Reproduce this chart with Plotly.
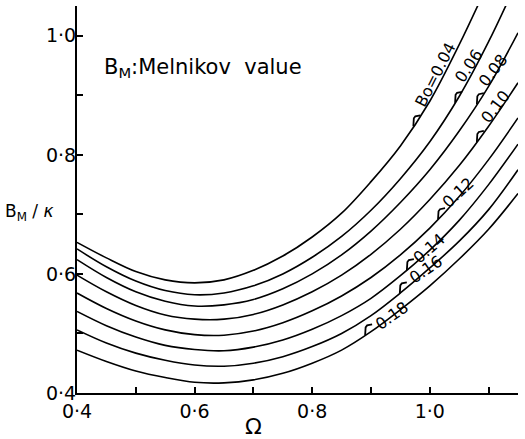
import numpy as np
import plotly.graph_objects as go

# ---- data ----
omega = [0.40, 0.45, 0.50, 0.55, 0.60, 0.65, 0.70, 0.75, 0.80, 0.85,
         0.90, 0.95, 1.00, 1.05, 1.10, 1.15]

B0_values = [0.04, 0.06, 0.08, 0.10, 0.12, 0.14, 0.16, 0.18]

bm_004 = [0.653, 0.627, 0.604, 0.590, 0.585, 0.590, 0.606, 0.630, 0.662, 0.702,
          0.755, 0.815, 0.890, 0.985, 1.090, 1.200]
bm_006 = [0.642, 0.612, 0.588, 0.572, 0.565, 0.568, 0.580, 0.600, 0.628, 0.663,
          0.707, 0.760, 0.822, 0.898, 0.990, 1.095]
bm_008 = [0.624, 0.594, 0.570, 0.554, 0.546, 0.548, 0.557, 0.575, 0.600, 0.632,
          0.672, 0.720, 0.775, 0.840, 0.915, 1.005]
bm_010 = [0.598, 0.570, 0.547, 0.531, 0.524, 0.524, 0.532, 0.548, 0.570, 0.598,
          0.633, 0.675, 0.725, 0.782, 0.848, 0.921]
bm_012 = [0.568, 0.542, 0.521, 0.506, 0.498, 0.497, 0.504, 0.518, 0.538, 0.563,
          0.594, 0.632, 0.677, 0.730, 0.792, 0.862]
bm_014 = [0.537, 0.513, 0.494, 0.480, 0.473, 0.471, 0.477, 0.489, 0.507, 0.530,
          0.559, 0.597, 0.640, 0.690, 0.750, 0.818]
bm_016 = [0.506, 0.484, 0.467, 0.455, 0.447, 0.445, 0.450, 0.461, 0.478, 0.500,
          0.530, 0.568, 0.610, 0.655, 0.708, 0.775]
bm_018 = [0.472, 0.453, 0.437, 0.426, 0.418, 0.417, 0.422, 0.433, 0.450, 0.472,
          0.503, 0.540, 0.580, 0.625, 0.675, 0.735]

curves = [bm_004, bm_006, bm_008, bm_010, bm_012, bm_014, bm_016, bm_018]

label_texts = ["Bo=0.04", "0.06", "0.08", "0.10", "0.12", "0.14", "0.16", "0.18"]
label_omega = [0.972, 1.043, 1.080, 1.080, 1.014, 0.961, 0.949, 0.890]
label_angle = [63, 56, 52, 53, 43, 41, 34, 35]
label_shift_x = [22, 14, 16, 19, 20, 22, 26, 27]
label_shift_y = [52, 37, 34, 35, 27, 22, 24, 20]

x_tickvals = [0.4, 0.6, 0.8, 1.0]
x_ticktext = ["0·4", "0·6", "0·8", "1·0"]
x_minorvals = [0.5, 0.7, 0.9, 1.1]
y_tickvals = [0.4, 0.6, 0.8, 1.0]
y_ticktext = ["0·4", "0·6", "0·8", "1·0"]
y_minorvals = [0.5, 0.7, 0.9]

# ---- layout geometry ----
W, H = 525, 439
ml, mr, mt, mb = 77, 7, 6, 46
xr = [0.4, 1.15]
yr = [0.4, 1.05]
px_x = (W - ml - mr) / (xr[1] - xr[0])
px_y = (H - mt - mb) / (yr[1] - yr[0])

FONT = "DejaVu Sans"

fig = go.Figure()
for c in curves:
    fig.add_trace(go.Scatter(x=omega, y=c, mode="lines",
                             line=dict(color="black", width=1.6, shape="spline", smoothing=1.0),
                             hoverinfo="skip", showlegend=False))

# hooks (leaders) for labels
hx, hy = [], []
hook = [(0, 0), (0.5, 8), (2, 10), (7, 11)]
for i, xo in enumerate(label_omega):
    yo = float(np.interp(xo, omega, curves[i]))
    for (dx, dy) in hook:
        hx.append(xo + dx / px_x)
        hy.append(yo + dy / px_y)
    hx.append(None)
    hy.append(None)
fig.add_trace(go.Scatter(x=hx, y=hy, mode="lines", line=dict(color="black", width=1.8),
                         hoverinfo="skip", showlegend=False))

annotations = []
for i, xo in enumerate(label_omega):
    yo = float(np.interp(xo, omega, curves[i]))
    annotations.append(dict(x=xo, y=yo, xref="x", yref="y", text=label_texts[i],
                            showarrow=False, textangle=-label_angle[i],
                            xshift=label_shift_x[i], yshift=label_shift_y[i],
                            xanchor="center", yanchor="middle",
                            font=dict(family=FONT, size=16, color="black")))

annotations.append(dict(x=(102 - ml) / (W - ml - mr), y=0.946, xref="paper", yref="y",
                        text="B<sub>M</sub>:Melnikov  value", showarrow=False,
                        xanchor="left", yanchor="middle",
                        font=dict(family=FONT, size=21, color="black")))
annotations.append(dict(x=(3 - ml) / (W - ml - mr), y=0.703, xref="paper", yref="y",
                        text="B<sub>M</sub> / <i>κ</i>", showarrow=False,
                        xanchor="left", yanchor="middle",
                        font=dict(family=FONT, size=17, color="black")))
annotations.append(dict(x=0.7, y=-(426 - (H - mb)) / (H - mt - mb), xref="x", yref="paper",
                        text="Ω", showarrow=False, xanchor="center", yanchor="middle",
                        font=dict(family=FONT, size=22, color="black")))

tick_style = dict(ticks="inside", ticklen=6, tickwidth=1.5, tickcolor="black")

fig.update_layout(
    width=W, height=H,
    margin=dict(l=ml, r=mr, t=mt, b=mb),
    paper_bgcolor="white", plot_bgcolor="white",
    annotations=annotations,
    xaxis=dict(range=xr, showgrid=False, zeroline=False, showline=True,
               linecolor="black", linewidth=2, tickvals=x_tickvals,
               ticktext=x_ticktext, minor=dict(tickvals=x_minorvals, showgrid=False, **tick_style),
               tickfont=dict(family=FONT, size=19, color="black"), **tick_style),
    yaxis=dict(range=yr, showgrid=False, zeroline=False, showline=True,
               linecolor="black", linewidth=2, tickvals=y_tickvals,
               ticktext=y_ticktext, minor=dict(tickvals=y_minorvals, showgrid=False, **tick_style),
               ticklabelstandoff=-5,
               tickfont=dict(family=FONT, size=19, color="black"), **tick_style),
)

fig.write_html("out.html")
